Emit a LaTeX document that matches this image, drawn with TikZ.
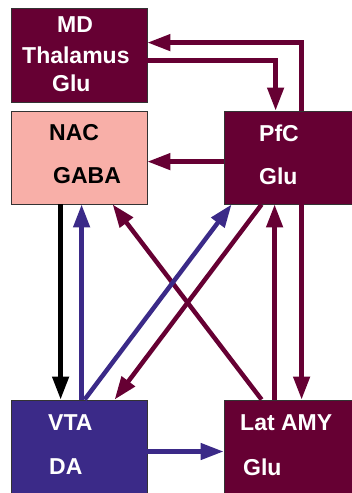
\documentclass[tikz,border=0pt]{standalone}
\usepackage{fontspec}
\setmainfont{Liberation Sans}
\usetikzlibrary{arrows.meta}
\definecolor{maroon}{HTML}{660033}
\definecolor{indigo}{HTML}{3B2A88}
\definecolor{salmon}{HTML}{F8AFA8}
\definecolor{edge}{HTML}{333333}
\begin{document}
\begin{tikzpicture}[x=1pt,y=-1pt,
  box/.style={draw=edge,line width=0.8pt,rectangle,inner sep=0pt},
  lbl/.style={anchor=west,inner sep=0pt,font=\fontsize{23}{27}\selectfont\bfseries},
  conn/.style={line width=4.5pt,-{Triangle[length=23pt,width=16pt]}}]
\useasboundingbox (0,0) rectangle (352,493);

% boxes
\node[box,fill=maroon,minimum width=136pt,minimum height=94pt] (md) at (79,55) {};
\node[box,fill=salmon,minimum width=136pt,minimum height=93pt] (nac) at (79,157.5) {};
\node[box,fill=maroon,minimum width=128pt,minimum height=93pt] (pfc) at (288,157.5) {};
\node[box,fill=indigo,minimum width=136pt,minimum height=93pt] (vta) at (79,446.5) {};
\node[box,fill=maroon,minimum width=128pt,minimum height=93pt] (amy) at (288,446.5) {};

% labels
\node[lbl,white] (mdA) at (57,25) {MD};
\node[lbl,white] (mdB) at (22,55) {Thalamus};
\node[lbl,white] (mdC) at (52,83) {Glu};
\node[lbl,black] (nacA) at (49,133) {NAC};
\node[lbl,black] (nacB) at (53,176) {GABA};
\node[lbl,white] (pfcA) at (259,133) {PfC};
\node[lbl,white] (pfcB) at (259,176) {Glu};
\node[lbl,white] (vtaA) at (48,423) {VTA};
\node[lbl,white] (vtaB) at (49,467) {DA};
\node[lbl,white] (amyA) at (240,423) {Lat AMY};
\node[lbl,white] (amyB) at (243,467) {Glu};

% loop between thalamus and prefrontal cortex
\draw[conn,maroon] ([xshift=78pt]pfc.north west) |- ([yshift=-35pt]md.north east);
\draw[conn,maroon] ([yshift=-53pt]md.north east) -| ([xshift=52pt]pfc.north west);
% prefrontal cortex to accumbens
\draw[conn,maroon] ([yshift=-51pt]pfc.north west) -- ([yshift=-51pt]nac.north east);
% accumbens <-> VTA
\draw[conn,black] ([xshift=50pt]nac.south west) -- ([xshift=50pt]vta.north west);
\draw[conn,indigo] ([xshift=71pt]vta.north west) -- ([xshift=71pt]nac.south west);
% diagonals
\draw[conn,maroon] ([xshift=38pt]amy.north west) -- ([xshift=102pt]nac.south west);
\draw[conn,maroon] ([xshift=38pt]pfc.south west) -- ([xshift=104pt]vta.north west);
\draw[conn,indigo] ([xshift=74pt]vta.north west) -- ([xshift=8pt]pfc.south west);
% amygdala <-> prefrontal cortex
\draw[conn,maroon] ([xshift=51pt]amy.north west) -- ([xshift=51pt]pfc.south west);
\draw[conn,maroon] ([xshift=78pt]pfc.south west) -- ([xshift=78pt]amy.north west);
% VTA to amygdala
\draw[conn,indigo] ([yshift=-5pt]vta.east) -- ([yshift=-5pt]amy.west);
\end{tikzpicture}
\end{document}
